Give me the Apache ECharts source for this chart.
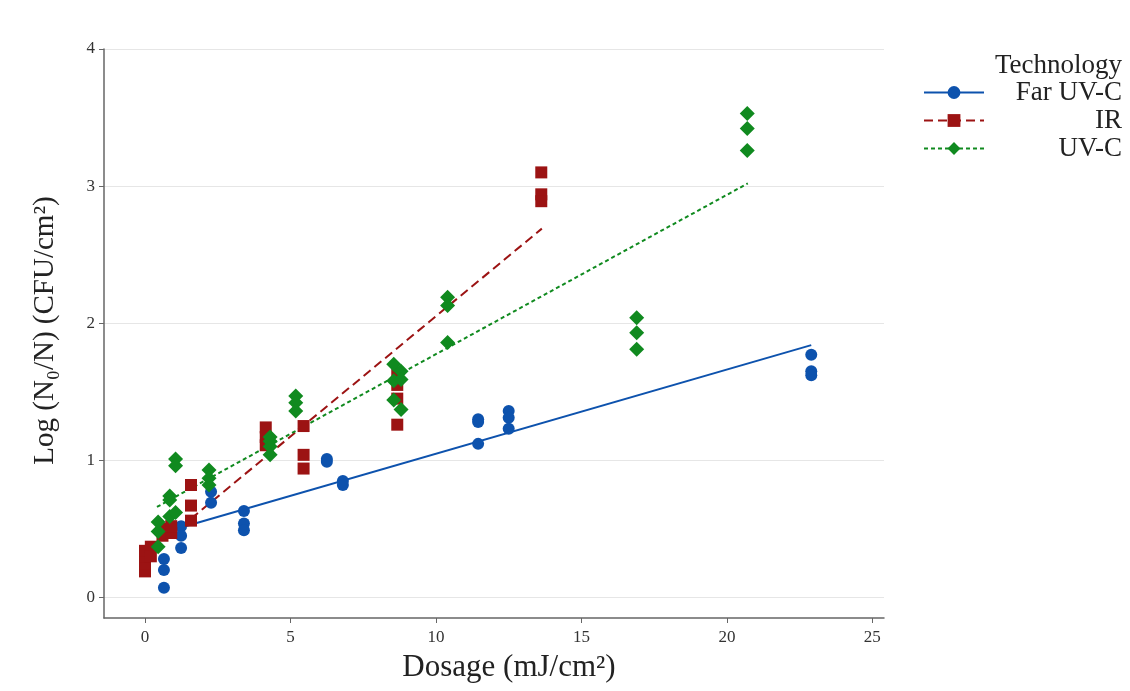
<!DOCTYPE html>
<html>
<head>
<meta charset="utf-8">
<script src="https://cdn.jsdelivr.net/npm/echarts@6/dist/echarts.min.js"></script>
<style>
  html, body { margin: 0; padding: 0; background: #fff; }
  #chart { width: 1130px; height: 691px; }
</style>
</head>
<body>
<div id="chart"></div>
<script>
// measured points, [dosage, log reduction]
const farUvcPoints = [
  [0.65, 0.28], [0.65, 0.2], [0.65, 0.07],
  [1.24, 0.52], [1.24, 0.45], [1.24, 0.36],
  [2.27, 0.77], [2.27, 0.69],
  [3.4, 0.63], [3.4, 0.54], [3.4, 0.49],
  [6.25, 1.01], [6.25, 0.99],
  [6.8, 0.85], [6.8, 0.82],
  [11.45, 1.3], [11.45, 1.28], [11.45, 1.12],
  [12.5, 1.36], [12.5, 1.31], [12.5, 1.23],
  [22.9, 1.77], [22.9, 1.65], [22.9, 1.62]
];
const irPoints = [
  [0.0, 0.19], [0.0, 0.25], [0.0, 0.3], [0.0, 0.34],
  [0.2, 0.37], [0.2, 0.3],
  [0.6, 0.5], [0.6, 0.45],
  [0.9, 0.47], [0.9, 0.52],
  [1.58, 0.82], [1.58, 0.67], [1.58, 0.56],
  [4.15, 1.24], [4.15, 1.17], [4.15, 1.11],
  [5.45, 1.25], [5.45, 1.04], [5.45, 0.94],
  [8.67, 1.64], [8.67, 1.55], [8.67, 1.45], [8.67, 1.26],
  [13.62, 3.1], [13.62, 2.94], [13.62, 2.89]
];
const uvcPoints = [
  [0.45, 0.55], [0.45, 0.48], [0.45, 0.37],
  [0.85, 0.74], [0.85, 0.71], [0.85, 0.59],
  [1.05, 1.01], [1.05, 0.96], [1.05, 0.62],
  [2.2, 0.93], [2.2, 0.87], [2.2, 0.82],
  [4.3, 1.17], [4.3, 1.14], [4.3, 1.1], [4.3, 1.04],
  [5.18, 1.47], [5.18, 1.42], [5.18, 1.36],
  [8.55, 1.7], [8.55, 1.58], [8.55, 1.44],
  [8.8, 1.65], [8.8, 1.59], [8.8, 1.37],
  [10.4, 2.19], [10.4, 2.13], [10.4, 1.86],
  [16.9, 2.04], [16.9, 1.93], [16.9, 1.81],
  [20.7, 3.53], [20.7, 3.42], [20.7, 3.26]
];

// fitted regression lines (start, end)
const farUvcFit = [[1.24, 0.51], [22.9, 1.84]];
const irFit = [[1.58, 0.574], [13.64, 2.69]];
const uvcFit = [[0.41, 0.66], [20.72, 3.02]];

const technologies = ['Far UV-C', 'IR', 'UV-C'];
const xTicks = [0, 5, 10, 15, 20, 25];
const yTicks = [0, 1, 2, 3, 4];

const serif = '"Liberation Serif", "DejaVu Serif", serif';
const colors = {
  'Far UV-C': '#0d52ad',
  'IR': '#9c1313',
  'UV-C': '#108a1f'
};

const chart = echarts.init(document.getElementById('chart'));

const fitSeries = (name, data, dash, symbol) => ({
  name: name,
  type: 'line',
  data: data,
  symbol: symbol,
  showSymbol: false,
  symbolSize: 12,
  silent: true,
  z: 2,
  itemStyle: { color: colors[name] },
  lineStyle: { color: colors[name], width: 2, type: dash }
});

const pointSeries = (name, data, symbol, size) => ({
  name: name,
  type: 'scatter',
  data: data,
  symbol: symbol,
  symbolSize: size,
  z: 3,
  itemStyle: { color: colors[name], opacity: 1 }
});

const option = {
  animation: false,
  backgroundColor: '#fff',
  textStyle: { fontFamily: serif },
  title: {
    text: 'Technology',
    right: 3,
    top: 47,
    textStyle: { fontFamily: serif, fontSize: 27, fontWeight: 'normal', color: '#222' }
  },
  legend: {
    data: technologies,
    orient: 'vertical',
    left: 918,
    top: 74,
    itemWidth: 60,
    itemHeight: 16,
    itemGap: 1,
    formatter: '{r|{name}}',
    textStyle: {
      fontFamily: serif,
      fontSize: 27,
      color: '#222',
      rich: {
        r: { width: 133, align: 'right', fontFamily: serif, fontSize: 27, lineHeight: 27, color: '#222' }
      }
    }
  },
  grid: {
    left: 104,
    right: 246,
    top: 49,
    bottom: 73,
    containLabel: false
  },
  xAxis: {
    type: 'value',
    min: -1.41,
    max: 25.4,
    name: 'Dosage (mJ/cm²)',
    nameLocation: 'middle',
    nameGap: 34,
    nameTextStyle: { fontFamily: serif, fontSize: 31, color: '#222', padding: [0, 0, 0, 30] },
    axisLine: { onZero: false, lineStyle: { color: '#666', width: 1.5 } },
    axisTick: { show: true, length: 5, customValues: xTicks, lineStyle: { color: '#666' } },
    axisLabel: {
      customValues: xTicks,
      margin: 11,
      fontFamily: serif,
      fontSize: 17,
      color: '#333',
      formatter: v => (xTicks.includes(v) ? String(v) : '')
    },
    splitLine: { show: false }
  },
  yAxis: {
    type: 'value',
    min: -0.15,
    max: 4,
    name: 'Log (N₀/N) (CFU/cm²)',
    nameLocation: 'middle',
    nameGap: 44,
    nameTextStyle: { fontFamily: serif, fontSize: 29, color: '#222', padding: [0, 0, 0, 6] },
    axisLine: { show: true, onZero: false, lineStyle: { color: '#666', width: 1.5 } },
    axisTick: { show: true, length: 5, customValues: yTicks, lineStyle: { color: '#666' } },
    axisLabel: {
      customValues: yTicks,
      margin: 9,
      fontFamily: serif,
      fontSize: 17,
      color: '#333',
      formatter: v => (yTicks.includes(v) ? String(v) : '')
    },
    splitLine: { show: true, lineStyle: { color: '#e6e6e6', width: 1 } }
  },
  series: [
    fitSeries('Far UV-C', farUvcFit, 'solid', 'circle'),
    fitSeries('IR', irFit, [9, 5], 'rect'),
    fitSeries('UV-C', uvcFit, [4, 3], 'diamond'),
    pointSeries('Far UV-C', farUvcPoints, 'circle', 12),
    pointSeries('IR', irPoints, 'rect', 12),
    pointSeries('UV-C', uvcPoints, 'diamond', 15)
  ]
};

chart.setOption(option);
</script>
</body>
</html>
